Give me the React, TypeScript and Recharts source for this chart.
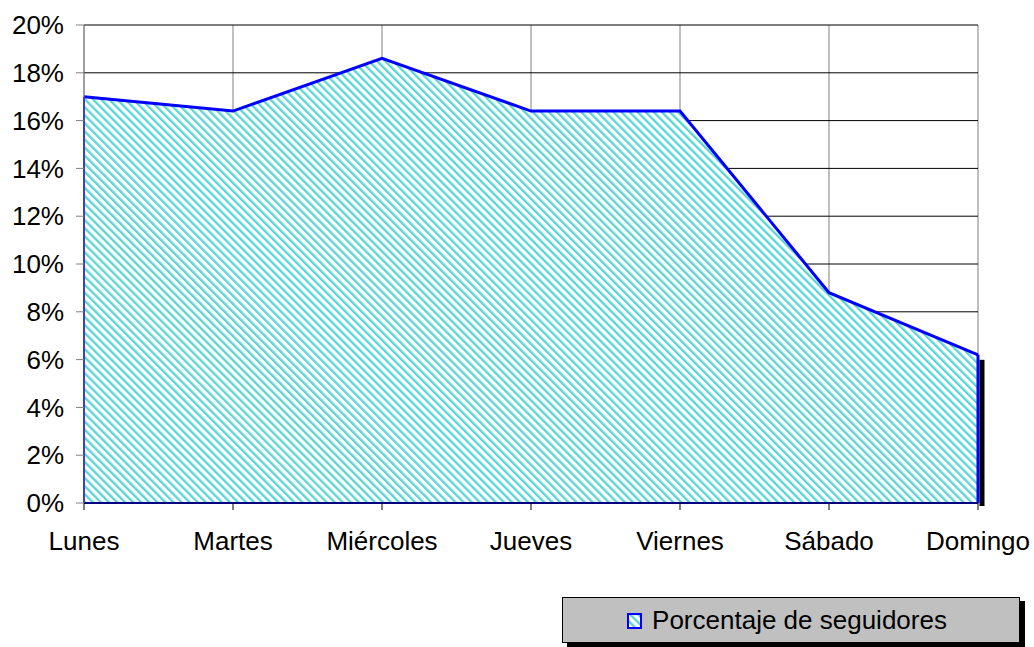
import { AreaChart, Area, XAxis, YAxis, CartesianGrid, ReferenceLine, ReferenceArea } from 'recharts';

const days = ['Lunes', 'Martes', 'Miércoles', 'Jueves', 'Viernes', 'Sábado', 'Domingo'];
const followers = [17.0, 16.4, 18.6, 16.4, 16.4, 8.8, 6.2];
const yTicks = [0, 2, 4, 6, 8, 10, 12, 14, 16, 18, 20];
const seriesName = 'Porcentaje de seguidores';

const chartData = days.map((day, i) => ({ day, value: followers[i] }));

const FONT = '"Liberation Sans", Arial, sans-serif';
const HATCH = '#5ed5d5';

function Hatch({ id }: { id: string }) {
  return (
    <pattern id={id} patternUnits="userSpaceOnUse" width="5.7" height="10" patternTransform="rotate(-45)">
      <rect x="0" y="0" width="5.7" height="10" fill="#ffffff" />
      <rect x="0" y="0" width="2.4" height="10" fill={HATCH} />
    </pattern>
  );
}

// black drop shadow on the right edge of the area (Excel style)
function EdgeShadow(props: any) {
  const { x, y, height } = props;
  if (x == null || y == null) return null;
  return <rect x={x + 1.5} y={y + 5} width={5} height={height - 2} fill="#000" />;
}

export default function App() {
  const last = days.length - 1;
  return (
    <div style={{ position: 'absolute', left: 0, top: 0, width: 1034, height: 647, fontFamily: FONT, background: '#fff' }}>
      <AreaChart width={1034} height={647} data={chartData} margin={{ top: 25, right: 56, left: 0, bottom: 84 }}>
        <defs>
          <Hatch id="hatchFill" />
        </defs>
        <CartesianGrid horizontal={false} vertical={true} stroke="#808080" strokeWidth={1} />
        <CartesianGrid horizontal={true} vertical={false} stroke="#000" strokeWidth={1} />
        <XAxis
          dataKey="day"
          height={60}
          axisLine={{ stroke: '#000' }}
          tickLine={{ stroke: '#000' }}
          tickSize={7}
          tickMargin={22}
          tick={{ fill: '#000', fontSize: 26, fontFamily: FONT }}
          interval={0}
        />
        <YAxis
          width={84}
          domain={[0, 20]}
          ticks={yTicks}
          tickFormatter={(v: number) => `${v}%`}
          axisLine={{ stroke: '#808080' }}
          tickLine={{ stroke: '#808080' }}
          tickSize={8}
          tickMargin={12}
          tick={{ fill: '#000', fontSize: 26, fontFamily: FONT }}
        />
        <ReferenceArea
          x1={days[last]}
          x2={days[last]}
          y1={0}
          y2={followers[last]}
          ifOverflow="visible"
          shape={<EdgeShadow />}
        />
        <Area
          type="linear"
          dataKey="value"
          name={seriesName}
          stroke="#0000ff"
          strokeWidth={3}
          fill="url(#hatchFill)"
          fillOpacity={1}
          dot={false}
          activeDot={false}
          isAnimationActive={false}
        />
        <ReferenceLine y={0} stroke="#0000ff" strokeWidth={2} />
        <ReferenceLine
          segment={[{ x: days[0], y: 0 }, { x: days[0], y: followers[0] }]}
          stroke="#0000ff"
          strokeWidth={2}
        />
        <ReferenceLine
          segment={[{ x: days[last], y: 0 }, { x: days[last], y: followers[last] }]}
          stroke="#0000ff"
          strokeWidth={3}
        />
      </AreaChart>
      <div
        style={{
          position: 'absolute',
          left: 562,
          top: 597,
          width: 456,
          height: 44,
          background: '#c0c0c0',
          border: '1px solid #000',
          boxShadow: '5px 4px 0 #000',
          display: 'flex',
          alignItems: 'center',
          justifyContent: 'center',
          boxSizing: 'content-box',
        }}
      >
        <svg width={15} height={16} style={{ marginRight: 10, marginTop: 2, marginLeft: -8 }}>
          <defs>
            <Hatch id="hatchLegend" />
          </defs>
          <rect x={1} y={1} width={13} height={14} fill="url(#hatchLegend)" stroke="#0000ff" strokeWidth={2} />
        </svg>
        <span style={{ fontSize: 26, color: '#000', lineHeight: '30px' }}>{seriesName}</span>
      </div>
    </div>
  );
}
